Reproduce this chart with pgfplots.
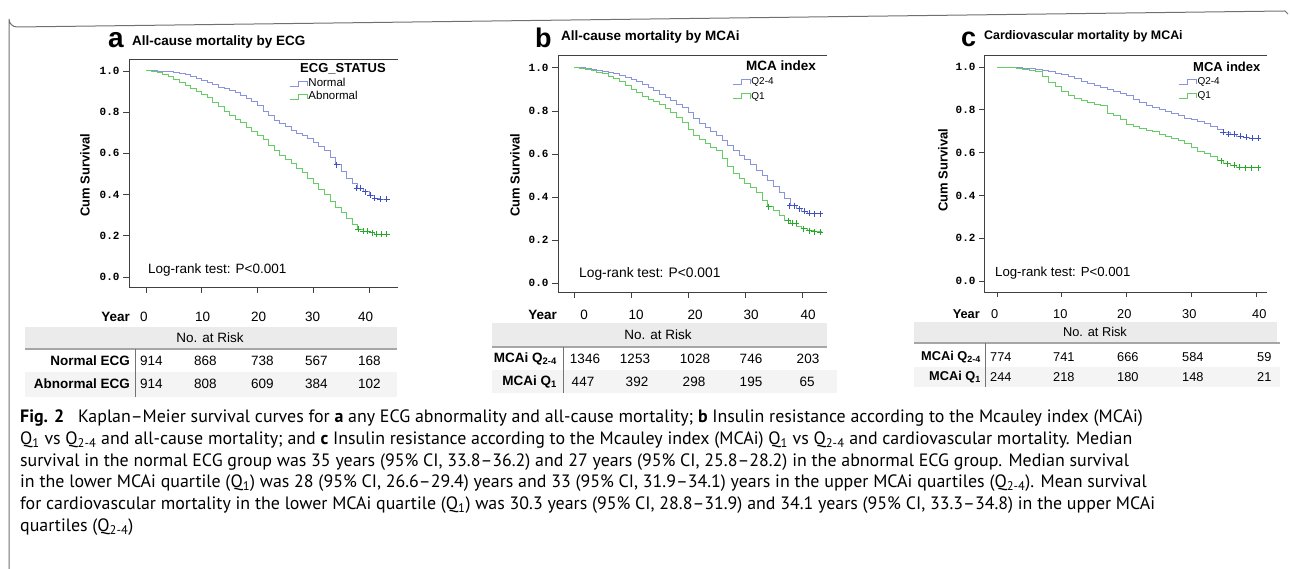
\documentclass[border=0pt]{standalone}
\usepackage{pgfplots}
\pgfplotsset{compat=1.18}
\usepackage{fontspec}
\setmainfont{Liberation Sans}
\newfontfamily\capfont{PT Sans}
\newfontfamily\monofont{Liberation Mono}
\definecolor{kmblue}{HTML}{8A94DA}
\definecolor{kmblued}{HTML}{3F51C0}
\definecolor{kmgreen}{HTML}{66CC66}
\definecolor{kmgreend}{HTML}{28A828}
\definecolor{band}{HTML}{EBEBEB}
\definecolor{bandlight}{HTML}{F4F4F4}
\definecolor{frame}{HTML}{707070}
\newcommand{\fs}[1]{\fontsize{#1}{#1}\selectfont}
\pgfplotsset{km/.style={
  scale only axis,
  axis x line=box, axis y line=left,
  axis line style={-, draw=black!75, line width=0.8pt},
  every outer x axis line/.append style={-},
  every outer y axis line/.append style={-},
  tick align=outside,
  xtick pos=left, ytick pos=left,
  major tick length=6pt,
  tick style={black!75, line width=0.8pt},
  xtick={0,10,20,30,40}, xticklabels={},
  ytick={0,0.2,0.4,0.6,0.8,1},
  yticklabel style={font=\monofont\bfseries\fs{11},
    /pgf/number format/.cd, fixed, fixed zerofill, precision=1, assume math mode=true},
  legend style={draw=none, fill=none, inner sep=0pt, outer sep=0pt, anchor=north west,
    cells={anchor=west}, nodes={inner sep=0.5pt, text height=8pt, text depth=2.5pt}},
  legend image code/.code={\draw[#1] (0pt,-2.5pt) -- (9pt,-2.5pt) -- (9pt,2.5pt) -- (18pt,2.5pt) -- (18pt,-2.5pt);},
  curveB/.style={kmblue, line width=0.9pt, const plot},
  curveG/.style={kmgreen, line width=0.9pt, const plot},
  censB/.style={only marks, mark=+, mark size=3pt, kmblued, mark options={line width=1pt}, forget plot},
  censG/.style={only marks, mark=+, mark size=3pt, kmgreend, mark options={line width=1pt}, forget plot},
}}
\begin{document}
\begin{tikzpicture}
\path[use as bounding box] (0pt,0pt) rectangle (1290pt,569pt);
% ---------------- panel a
\begin{axis}[km, at={(129pt,282pt)}, anchor=south west, width=269pt, height=228pt,
  xmin=-3.05, xmax=45.2, ymin=-0.049, ymax=1.058,
  legend style={at={(0.595,0.917)}, font=\fs{11.5}, row sep=1.5pt}]
\addplot[curveB] coordinates {(0,1.0) (2,0.998) (4,0.997) (5,0.995) (6,0.99) (7,0.984) (8,0.975) (9,0.965) (10,0.953) (11,0.942) (12,0.932) (13,0.922) (14,0.913) (15,0.905) (16,0.895) (17,0.882) (18,0.868) (19,0.852) (20,0.832) (21,0.805) (22,0.782) (23,0.762) (24,0.745) (25,0.73) (26,0.712) (27,0.698) (28,0.685) (29,0.67) (30,0.652) (31,0.635) (32,0.612) (33,0.578) (34,0.545) (35,0.512) (36,0.48) (37,0.452) (38,0.43) (39,0.413) (40,0.396) (41,0.383) (42,0.378) (43.3,0.378)};
\addlegendentry{Normal}
\addplot[curveG] coordinates {(0,1.0) (1,0.997) (2,0.992) (3,0.985) (4,0.972) (5,0.958) (6,0.943) (7,0.93) (8,0.915) (9,0.9) (10,0.885) (11,0.87) (12,0.848) (13,0.828) (14,0.805) (15,0.785) (16,0.765) (17,0.748) (18,0.728) (19,0.708) (20,0.688) (21,0.665) (22,0.64) (23,0.612) (24,0.59) (25,0.57) (26,0.55) (27,0.528) (28,0.505) (29,0.478) (30,0.452) (31,0.425) (32,0.398) (33,0.365) (34,0.338) (35,0.312) (36,0.285) (37,0.255) (38,0.232) (39,0.222) (40,0.214) (41,0.208) (42,0.207) (43.3,0.207)};
\addlegendentry{Abnormal}
\addplot[censB] coordinates {(34.2,0.545) (37.8,0.43) (38.5,0.43) (39.3,0.413) (40.2,0.396) (41.0,0.383) (42,0.378) (43.2,0.378)};
\addplot[censG] coordinates {(38.1,0.232) (39.0,0.222) (39.8,0.222) (40.6,0.214) (41.4,0.208) (42.3,0.207) (43.2,0.207)};
\end{axis}
% ---------------- panel b
\begin{axis}[km, at={(558pt,277pt)}, anchor=south west, width=269pt, height=237pt,
  xmin=-2.8, xmax=44.4, ymin=-0.042, ymax=1.06,
  legend style={at={(0.647,0.911)}, font=\fs{10}, row sep=3pt}]
\addplot[curveB] coordinates {(0,1.0) (2,0.997) (3,0.993) (4,0.989) (5,0.984) (6,0.978) (7,0.972) (8,0.963) (9,0.955) (10,0.945) (11,0.935) (12,0.923) (13,0.91) (14,0.895) (15,0.878) (16,0.862) (17,0.848) (18,0.832) (19,0.815) (20,0.792) (21,0.765) (22,0.742) (23,0.725) (24,0.705) (25,0.684) (26,0.664) (27,0.64) (28,0.615) (29,0.592) (30,0.572) (31,0.55) (32,0.525) (33,0.5) (34,0.476) (35,0.45) (36,0.422) (37,0.392) (38,0.36) (39,0.345) (40,0.333) (41,0.325) (42,0.322) (43.5,0.322)};
\addlegendentry{Q2-4}
\addplot[curveG] coordinates {(0,1.0) (1,0.998) (2,0.993) (3,0.987) (4,0.981) (5,0.974) (6,0.962) (7,0.95) (8,0.935) (9,0.918) (10,0.902) (11,0.885) (12,0.868) (13,0.855) (14,0.842) (15,0.828) (16,0.812) (17,0.795) (18,0.77) (19,0.745) (20,0.715) (21,0.688) (22,0.665) (23,0.648) (24,0.632) (25,0.614) (26,0.578) (27,0.54) (28,0.51) (29,0.485) (30,0.462) (31,0.442) (32,0.42) (33,0.385) (34,0.355) (35,0.335) (36,0.315) (37,0.29) (38,0.278) (39,0.265) (40,0.252) (41,0.243) (42,0.238) (43.5,0.236)};
\addlegendentry{Q1}
\addplot[censB] coordinates {(37.9,0.36) (38.7,0.36) (39.6,0.345) (40.5,0.333) (41.3,0.325) (42.2,0.322) (43.2,0.322)};
\addplot[censG] coordinates {(34.2,0.355) (37.6,0.29) (38.3,0.278) (39.0,0.278) (40.3,0.252) (41.3,0.243) (42.2,0.238) (43.2,0.236)};
\end{axis}
% ---------------- panel c
\begin{axis}[km, at={(984pt,277pt)}, anchor=south west, width=283pt, height=237pt,
  xmin=-2.0, xmax=41.67, ymin=-0.051, ymax=1.056, major tick length=5pt,
  legend style={at={(0.686,0.911)}, font=\fs{10}, row sep=2.5pt}]
\addplot[curveB] coordinates {(0,1.0) (2,0.998) (4,0.994) (5,0.991) (6,0.987) (7,0.983) (8,0.978) (9,0.972) (10,0.964) (11,0.955) (12,0.945) (13,0.934) (14,0.922) (15,0.912) (16,0.903) (17,0.893) (18,0.884) (19,0.876) (20,0.865) (21,0.848) (22,0.833) (23,0.822) (24,0.812) (25,0.802) (26,0.792) (27,0.783) (28,0.772) (29,0.761) (30,0.754) (31,0.746) (32,0.735) (33,0.722) (34,0.706) (35,0.695) (36,0.685) (37,0.677) (38,0.671) (39,0.667) (40.5,0.667)};
\addlegendentry{Q2-4}
\addplot[curveG] coordinates {(0,1.0) (2,0.996) (3,0.992) (4,0.988) (5,0.984) (6,0.977) (7,0.955) (8,0.93) (9,0.91) (10,0.885) (11,0.866) (12,0.853) (13,0.843) (14,0.833) (15,0.826) (16,0.818) (17,0.785) (18,0.772) (19,0.755) (20,0.733) (21,0.72) (22,0.713) (23,0.705) (24,0.698) (25,0.686) (26,0.677) (27,0.665) (28,0.655) (29,0.645) (30,0.625) (31,0.605) (32,0.595) (33,0.583) (34,0.562) (35,0.548) (36,0.542) (37,0.532) (38,0.53) (40.5,0.53)};
\addlegendentry{Q1}
\addplot[censB] coordinates {(34.9,0.695) (35.8,0.685) (36.7,0.685) (37.6,0.677) (38.5,0.671) (39.4,0.667) (40.3,0.667)};
\addplot[censG] coordinates {(34.6,0.562) (35.5,0.548) (36.6,0.542) (37.5,0.532) (38.4,0.53) (39.3,0.53) (40.3,0.53)};
\end{axis}
% ---------------- decorations in pixel coordinates
\begin{scope}[x=1pt, y=-1pt, shift={(0pt,569pt)}]
\draw[frame, line width=1pt] (9,569) -- (9,19) arc[start angle=180, end angle=90, radius=8] -- (1285,11) -- (1288,14);
% titles
\node[anchor=base west, inner sep=0, font=\bfseries\fs{28}] at (108,48) {a};
\node[anchor=base west, inner sep=0, font=\bfseries\fs{13.5}] at (132,46) {All-cause mortality by ECG};
\node[anchor=base west, inner sep=0, font=\bfseries\fs{27}] at (535,48) {b};
\node[anchor=base west, inner sep=0, font=\bfseries\fs{13.5}] at (561,41) {All-cause mortality by MCAi};
\node[anchor=base west, inner sep=0, font=\bfseries\fs{27}] at (961,47) {c};
\node[anchor=base west, inner sep=0, font=\bfseries\fs{12.4}] at (984,40) {Cardiovascular mortality by MCAi};
% y labels
\node[rotate=90, inner sep=0, font=\bfseries\fs{13}] at (85,175) {Cum Survival};
\node[rotate=90, inner sep=0, font=\bfseries\fs{13}] at (515,175) {Cum Survival};
\node[rotate=90, inner sep=0, font=\bfseries\fs{13}] at (943,170) {Cum Survival};
% legend titles
\node[anchor=west, inner sep=0, font=\bfseries\fs{13}] at (300,69) {ECG\_STATUS};
\node[anchor=west, inner sep=0, font=\bfseries\fs{13.5}] at (746,66) {MCA index};
\node[anchor=west, inner sep=0, font=\bfseries\fs{13}] at (1193,67) {MCA index};
% log-rank
\node[anchor=west, inner sep=0, font=\fs{13.5}] at (148,270) {Log-rank test: P<0.001};
\node[anchor=west, inner sep=0, font=\fs{13.8}] at (579,274) {Log-rank test: P<0.001};
\node[anchor=west, inner sep=0, font=\fs{13.2}] at (995,273) {Log-rank test: P<0.001};
% ---- table a
\fill[band] (25,327) rectangle (397,348);
\fill[bandlight] (25,372) rectangle (397,397);
\draw[black!35, line width=1.2pt] (25,349) -- (397,349);
\draw[black!55, line width=1pt] (135,349) -- (135,397);
\node[font=\fs{13.5}] at (210,338) {No. at Risk};
\begin{scope}[every node/.style={anchor=west, inner sep=0, font=\fs{13.5}}]
\node[anchor=east, font=\bfseries\fs{13.5}] at (130,317) {Year};
\node at (140,317) {0}; \node at (195,317) {10}; \node at (251,317) {20}; \node at (305,317) {30}; \node at (358,317) {40};
\node[anchor=east, font=\bfseries\fs{13.5}] at (130,361) {Normal ECG};
\node at (140,361) {914}; \node at (194,361) {868}; \node at (251,361) {738}; \node at (305,361) {567}; \node at (358,361) {168};
\node[anchor=east, font=\bfseries\fs{13.5}] at (130,384) {Abnormal ECG};
\node at (140,384) {914}; \node at (194,384) {808}; \node at (251,384) {609}; \node at (305,384) {384}; \node at (358,384) {102};
\end{scope}
% ---- table b
\fill[band] (492,323) rectangle (827,346);
\fill[bandlight] (492,370) rectangle (837,393);
\draw[black!35, line width=1.2pt] (492,347) -- (827,347);
\draw[black!55, line width=1pt] (563,347) -- (563,393);
\node[font=\fs{13.5}] at (658,335) {No. at Risk};
\begin{scope}[every node/.style={inner sep=0, font=\fs{13.5}}]
\node[anchor=east, font=\bfseries\fs{13.5}] at (557,315) {Year};
\node at (584,315) {0}; \node at (636,315) {10}; \node at (695,315) {20}; \node at (751,315) {30}; \node at (808,315) {40};
\node[anchor=east, font=\bfseries\fs{13.5}] at (557,359) {MCAi Q\textsubscript{2-4}};
\node at (585,359) {1346}; \node at (635,359) {1253}; \node at (695,359) {1028}; \node at (751,359) {746}; \node at (808,359) {203};
\node[anchor=east, font=\bfseries\fs{13.5}] at (557,382) {MCAi Q\textsubscript{1}};
\node at (583,382) {447}; \node at (637,382) {392}; \node at (694,382) {298}; \node at (751,382) {195}; \node at (807,382) {65};
\end{scope}
% ---- table c
\fill[band] (914,322) rectangle (1277,342);
\fill[bandlight] (914,367) rectangle (1280,387);
\draw[black!35, line width=1.2pt] (914,343) -- (1280,343);
\draw[black!55, line width=1pt] (985,343) -- (985,387);
\node[font=\fs{12.8}] at (1095,332) {No. at Risk};
\begin{scope}[every node/.style={anchor=west, inner sep=0, font=\fs{12.8}}]
\node[anchor=east, font=\bfseries\fs{12.8}] at (980,314) {Year};
\node at (991,314) {0}; \node at (1053,314) {10}; \node at (1117,314) {20}; \node at (1182,314) {30}; \node at (1252,314) {40};
\node[anchor=east, font=\bfseries\fs{12.8}] at (981,357) {MCAi Q\textsubscript{2-4}};
\node at (990,357) {774}; \node at (1053,357) {741}; \node at (1117,357) {666}; \node at (1182,357) {584}; \node at (1257,357) {59};
\node[anchor=east, font=\bfseries\fs{12.8}] at (981,377) {MCAi Q\textsubscript{1}};
\node at (990,377) {244}; \node at (1053,377) {218}; \node at (1117,377) {180}; \node at (1182,377) {148}; \node at (1257,377) {21};
\end{scope}
% ---- caption
\begin{scope}[every node/.style={anchor=base west, inner sep=0, font=\capfont\fs{17.9}}]
\node at (20,423) {\textbf{Fig. 2}\hspace{0.5em} Kaplan–Meier survival curves for \textbf{a} any ECG abnormality and all-cause mortality; \textbf{b} Insulin resistance according to the Mcauley index (MCAi)};
\node at (20,445) {Q\textsubscript{1} vs Q\textsubscript{2-4} and all-cause mortality; and \textbf{c} Insulin resistance according to the Mcauley index (MCAi) Q\textsubscript{1} vs Q\textsubscript{2-4} and cardiovascular mortality. Median};
\node at (20,467) {survival in the normal ECG group was 35 years (95\% CI, 33.8–36.2) and 27 years (95\% CI, 25.8–28.2) in the abnormal ECG group. Median survival};
\node at (20,488) {in the lower MCAi quartile (Q\textsubscript{1}) was 28 (95\% CI, 26.6–29.4) years and 33 (95\% CI, 31.9–34.1) years in the upper MCAi quartiles (Q\textsubscript{2-4}). Mean survival};
\node at (20,510) {for cardiovascular mortality in the lower MCAi quartile (Q\textsubscript{1}) was 30.3 years (95\% CI, 28.8–31.9) and 34.1 years (95\% CI, 33.3–34.8) in the upper MCAi};
\node at (20,532) {quartiles (Q\textsubscript{2-4})};
\end{scope}
\end{scope}
\end{tikzpicture}
\end{document}
